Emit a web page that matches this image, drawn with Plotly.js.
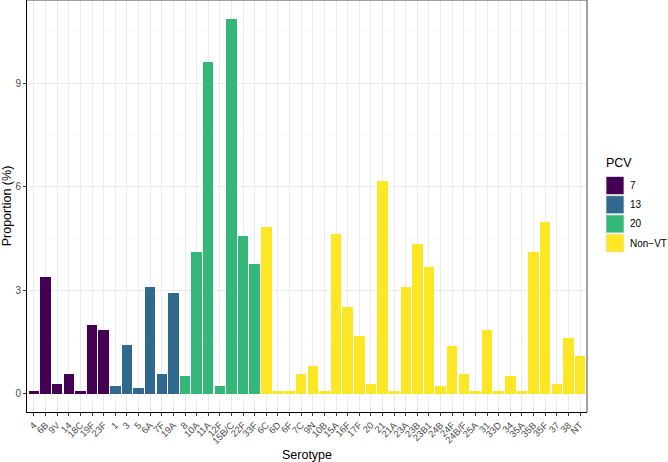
<!DOCTYPE html>
<html>
<head>
<meta charset="utf-8">
<script src="https://cdn.plot.ly/plotly-3.0.1.min.js"></script>
<style>html,body{margin:0;padding:0;background:#fff;}#chart{width:668px;height:462px;}</style>
</head>
<body>
<div id="chart"></div>
<script>
// ---- data ----
const groupNames = ["7", "13", "20", "Non\u2212VT"];
const groupColors = ["#440154", "#31688E", "#35B779", "#FDE725"];

const pcv7Serotypes = ["4","6B","9V","14","18C","19F","23F"];
const pcv7Values = [0.08,3.39,0.29,0.58,0.08,1.98,1.84];

const pcv13Serotypes = ["1","3","5","6A","7F","19A"];
const pcv13Values = [0.22,1.40,0.15,3.09,0.58,2.93];

const pcv20Serotypes = ["8","10A","11A","12F","15B/C","22F","33F"];
const pcv20Values = [0.51,4.11,9.62,0.21,10.87,4.56,3.75];

const nonVTSerotypes = ["6C","6D","6F","7C","9N","10B","15A","16F","17F","20","21","21A","23A","23B","23B1","24B","24F","24B/F","25A","31","33D","34","35A","35B","35F","37","38","NT"];
const nonVTValues = [4.84,0.08,0.08,0.58,0.81,0.07,4.63,2.50,1.68,0.29,6.16,0.07,3.09,4.33,3.67,0.21,1.39,0.58,0.07,1.84,0.07,0.51,0.07,4.10,4.99,0.29,1.61,1.10];

const yTickVals = [0,3,6,9];

// ---- build ----
const groupsX = [pcv7Serotypes, pcv13Serotypes, pcv20Serotypes, nonVTSerotypes];
const groupsY = [pcv7Values, pcv13Values, pcv20Values, nonVTValues];
const allSerotypes = [].concat(...groupsX);

const traces = groupsX.map((xs, i) => ({
  type: "bar",
  x: xs,
  y: groupsY[i],
  name: groupNames[i],
  marker: {color: groupColors[i], line: {width: 0}},
  width: 0.9,
  showlegend: false,
  hoverinfo: "x+y"
}));

const W = 668, H = 462;
const M = {l: 27, r: 81, t: 0, b: 50};
const pw = W - M.l - M.r, ph = H - M.t - M.b;
const px2x = p => (p - M.l) / pw;
const py2y = p => (H - M.b - p) / ph;

const font = "Liberation Sans, Arial, Helvetica, sans-serif";

const shapes = [
  // panel top and right border
  {type: "line", xref: "paper", yref: "paper", x0: 0, x1: 1, y0: 1, y1: 1, line: {color: "#444", width: 1.2}},
  {type: "line", xref: "paper", yref: "paper", x0: 1, x1: 1, y0: 0, y1: 1, line: {color: "#8a8a8a", width: 1.6}}
];
const annotations = [
  {xref: "paper", yref: "paper", x: px2x(605), y: py2y(163), xanchor: "left", yanchor: "middle",
   text: "PCV", showarrow: false, borderpad: 0, font: {family: font, size: 12.5, color: "#000"}}
];
const keyTop = 176.5, keyH = 19.2, keySize = 18;
groupNames.forEach((g, i) => {
  const y0 = keyTop + i * keyH;
  shapes.push({type: "rect", xref: "paper", yref: "paper",
    x0: px2x(606), x1: px2x(606 + keySize), y0: py2y(y0), y1: py2y(y0 + keySize),
    fillcolor: groupColors[i], line: {color: "#e6e6e6", width: 0.8}});
  annotations.push({xref: "paper", yref: "paper", x: px2x(629), y: py2y(y0 + keySize / 2),
    xanchor: "left", yanchor: "middle", text: g, showarrow: false, borderpad: 0,
    font: {family: font, size: 10, color: "#000"}});
});

const layout = {
  width: W, height: H,
  margin: M,
  paper_bgcolor: "#fff", plot_bgcolor: "#fff",
  barmode: "stack",
  bargap: 0.1,
  font: {family: font},
  xaxis: {
    type: "category",
    categoryorder: "array",
    categoryarray: allSerotypes,
    range: [-0.6, allSerotypes.length - 0.4],
    tickangle: -45,
    tickfont: {family: font, size: 9.5, color: "#4D4D4D"},
    ticks: "outside", ticklen: 3, tickcolor: "#333", tickwidth: 1,
    showline: true, linecolor: "#000", linewidth: 1,
    showgrid: true, gridcolor: "#EBEBEB", gridwidth: 1,
    zeroline: false,
    automargin: false,
    title: {text: "Serotype", font: {family: font, size: 12.5, color: "#000"}, standoff: 6}
  },
  yaxis: {
    range: [-0.536, 11.42],
    tickvals: yTickVals,
    ticktext: yTickVals.map(String),
    tickfont: {family: font, size: 10, color: "#4D4D4D"},
    ticks: "outside", ticklen: 3, tickcolor: "#333", tickwidth: 1,
    showline: true, linecolor: "#000", linewidth: 1,
    showgrid: true, gridcolor: "#EBEBEB", gridwidth: 1,
    minor: {tick0: 0, dtick: 1.5, showgrid: true, gridcolor: "#F3F3F3", gridwidth: 0.6, ticks: ""},
    zeroline: false,
    automargin: false,
    title: {text: "Proportion (%)", font: {family: font, size: 12.5, color: "#000"}, standoff: 2}
  },
  shapes: shapes,
  annotations: annotations,
  showlegend: false
};

Plotly.newPlot("chart", traces, layout, {displayModeBar: false, staticPlot: true});
</script>
</body>
</html>
